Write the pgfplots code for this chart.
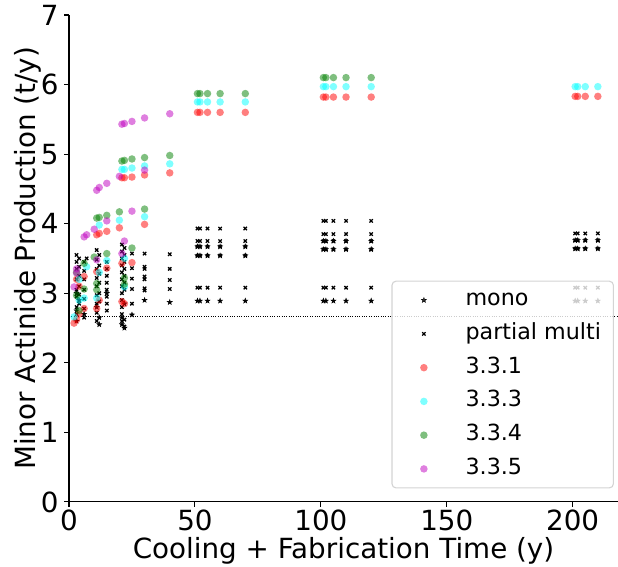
\documentclass[border=0pt]{standalone}
\usepackage{fontspec}
\setmainfont{DejaVu Sans}
\usepackage{pgfplots}
\pgfplotsset{compat=1.18}
\definecolor{mred}{rgb}{1,0,0}
\definecolor{mcyan}{rgb}{0,1,1}
\definecolor{mgreen}{rgb}{0,0.5,0}
\definecolor{mmag}{rgb}{0.75,0,0.75}

% filled five-pointed star, like matplotlib's '*'
\pgfdeclareplotmark{fstar}{%
  \pgfpathmoveto{\pgfpointpolar{90}{\pgfplotmarksize}}%
  \pgfpathlineto{\pgfpointpolar{126}{0.4\pgfplotmarksize}}%
  \pgfpathlineto{\pgfpointpolar{162}{\pgfplotmarksize}}%
  \pgfpathlineto{\pgfpointpolar{198}{0.4\pgfplotmarksize}}%
  \pgfpathlineto{\pgfpointpolar{234}{\pgfplotmarksize}}%
  \pgfpathlineto{\pgfpointpolar{270}{0.4\pgfplotmarksize}}%
  \pgfpathlineto{\pgfpointpolar{306}{\pgfplotmarksize}}%
  \pgfpathlineto{\pgfpointpolar{342}{0.4\pgfplotmarksize}}%
  \pgfpathlineto{\pgfpointpolar{18}{\pgfplotmarksize}}%
  \pgfpathlineto{\pgfpointpolar{54}{0.4\pgfplotmarksize}}%
  \pgfpathclose\pgfusepathqfillstroke}

\pgfplotsset{
    circ/.style={only marks, mark=*, mark size=2.7pt, color=#1,
        mark options={draw opacity=0, fill=#1, fill opacity=0.5}},
}

\begin{document}
\begin{tikzpicture}
\begin{axis}[
    scale only axis,
    width=395.3pt, height=350.6pt,
    xmin=0, xmax=218,
    ymin=0, ymax=7,
    axis x line=bottom, axis y line=left,
    axis line style={-, line width=0.8pt},
    xtick={0,50,100,150,200},
    ytick={0,1,2,3,4,5,6,7},
    tick align=outside,
    major tick length=3.5pt,
    tick style={black, line width=0.8pt},
    /pgf/number format/assume math mode=true,
    ticklabel style={font=\fontsize{20}{24}\selectfont},
    xticklabel style={anchor=north, yshift=1.4pt},
    yticklabel style={anchor=east, xshift=-0.5pt},
    xlabel={Cooling + Fabrication Time (y)},
    ylabel={Minor Actinide Production (t/y)},
    label style={font=\fontsize{20}{24}\selectfont},
    xlabel style={at={(axis description cs:0.5,0)}, anchor=base, yshift=-41pt},
    ylabel style={at={(axis description cs:-0.0751,0.5)}, anchor=center},
    legend cell align=left,
    legend image code/.code={\path[draw=none] (-16pt,0pt) -- (8pt,0pt); \draw[#1, only marks] plot coordinates {(0pt,0pt)};},
    legend style={
        at={(0.9927,0.4545)}, anchor=north east,
        font=\fontsize{16}{19}\selectfont,
        draw=black!17, line width=0.8pt, rounded corners=3pt,
        fill=white, fill opacity=0.8, text opacity=1,
        inner xsep=7pt, inner ysep=4.2pt,
        row sep=5.3pt, column sep=20pt,
        nodes={text height=11.5pt, text depth=3.5pt, inner sep=2pt},
    },
]

% mono
\addplot[only marks, mark=fstar, mark size=1.9pt, black, mark options={line width=0.3pt}] coordinates {
    (3,3.00) (3,2.75) (3,2.60) (4,2.90) (6,2.70) (11,2.80) (12,2.65) (12,2.55)
    (15,3.00) (21,2.55) (21,2.65) (22,2.50) (22,2.85) (25,2.69) (30,2.90) (40,2.87)
    (51,2.89) (52,2.89) (55,2.89) (60,2.89) (70,2.89)
    (51,3.54) (52,3.54) (55,3.54) (60,3.54) (70,3.54)
    (51,3.67) (52,3.67) (55,3.67) (60,3.67) (70,3.67)
    (101,2.89) (102,2.89) (105,2.89) (110,2.89) (120,2.89)
    (101,3.63) (102,3.63) (105,3.63) (110,3.63) (120,3.63)
    (101,3.75) (102,3.75) (105,3.75) (110,3.75) (120,3.75)
    (201,2.89) (202,2.89) (205,2.89) (210,2.89)
    (201,3.64) (202,3.64) (205,3.64) (210,3.64)
    (201,3.76) (202,3.76) (205,3.76) (210,3.76)
};
\addlegendentry{mono}

% partial multi
\addplot[only marks, mark=x, mark size=1.7pt, black, mark options={line width=0.9pt}] coordinates {
    (3,3.55) (3,3.45) (3,3.35) (3,3.20) (3,3.05) (3,2.95) (3,2.80) (3,2.70)
    (4,3.50) (4,3.38) (4,3.25) (4,3.10) (4,2.98) (4,2.85)
    (6,3.45) (6,3.32) (6,3.20) (6,3.05) (6,2.92) (6,2.78) (6,2.65) (7,3.50)
    (11,3.62) (11,3.48) (11,3.35) (11,3.22) (11,3.10) (11,2.97) (11,2.85) (11,2.72) (11,2.60)
    (12,3.55) (12,3.40) (12,3.28) (12,3.15) (12,3.00) (12,2.88)
    (15,3.45) (15,3.35) (15,3.25) (15,3.15) (15,3.05) (15,2.95) (15,2.85) (15,2.75)
    (21,3.70) (21,3.60) (21,3.50) (21,3.40) (21,3.30) (21,3.20) (21,3.10) (21,3.00) (21,2.90) (21,2.80) (21,2.70) (21,2.60)
    (22,3.65) (22,3.55) (22,3.45) (22,3.35) (22,3.25) (22,3.15) (22,3.05) (22,2.62) (22,2.52)
    (25,3.57) (25,3.36) (25,3.21) (25,3.06) (25,2.85)
    (30,3.57) (30,3.38) (30,3.35) (30,3.24) (30,3.20) (30,3.07) (30,3.04)
    (40,3.56) (40,3.35) (40,3.19) (40,3.06)
    (51,3.93) (51,3.75) (51,3.67) (51,3.54) (51,3.08)
    (52,3.93) (52,3.75) (52,3.67) (52,3.54) (52,3.08)
    (55,3.93) (55,3.75) (55,3.67) (55,3.54) (55,3.08)
    (60,3.93) (60,3.75) (60,3.67) (60,3.54) (60,3.08)
    (70,3.93) (70,3.75) (70,3.67) (70,3.54) (70,3.08)
    (101,4.04) (101,3.85) (101,3.75) (101,3.63) (101,3.08)
    (102,4.04) (102,3.85) (102,3.75) (102,3.63) (102,3.08)
    (105,4.04) (105,3.85) (105,3.75) (105,3.63) (105,3.08)
    (110,4.04) (110,3.85) (110,3.75) (110,3.63) (110,3.08)
    (120,4.04) (120,3.85) (120,3.75) (120,3.63) (120,3.08)
    (201,3.86) (201,3.76) (201,3.64) (201,3.08)
    (202,3.86) (202,3.76) (202,3.64) (202,3.08)
    (205,3.86) (205,3.76) (205,3.64) (205,3.08)
    (210,3.86) (210,3.76) (210,3.64) (210,3.08)
};
\addlegendentry{partial multi}

% 3.3.1
\addplot[circ=mred] coordinates {
    (2,2.57) (3,2.62) (4,2.70) (6,2.78) (11,2.78) (12,2.90) (21,2.88) (22,2.85)
    (3,3.20) (4,3.10) (6,3.24) (11,3.31) (15,3.36) (21,3.43) (25,3.44)
    (11,3.84) (12,3.86) (15,3.89) (20,3.94) (30,3.99)
    (21,4.66) (22,4.66) (25,4.67) (30,4.70) (40,4.73)
    (51,5.60) (52,5.60) (55,5.60) (60,5.60) (70,5.60)
    (101,5.82) (102,5.82) (105,5.82) (110,5.82) (120,5.82)
    (201,5.83) (202,5.83) (205,5.83) (210,5.83)
};
\addlegendentry{3.3.1}

% 3.3.3
\addplot[circ=mcyan] coordinates {
    (2,2.66) (4,2.90) (6,2.93) (11,2.93) (22,3.09) (4,3.20) (12,3.30) (7,3.38) (15,3.47) (22,3.50)
    (12,3.98) (20,4.05) (30,4.10)
    (21,4.78) (22,4.78) (25,4.80) (30,4.83) (40,4.86)
    (51,5.75) (52,5.75) (55,5.75) (60,5.75) (70,5.75)
    (101,5.97) (102,5.97) (105,5.97) (110,5.97) (120,5.97)
    (201,5.97) (202,5.97) (205,5.97) (210,5.97)
};
\addlegendentry{3.3.3}

% 3.3.4
\addplot[circ=mgreen] coordinates {
    (3,2.97) (4,2.75) (6,3.06) (11,3.05) (11,3.14) (22,3.13) (22,3.22) (3,3.30)
    (6,3.43) (10,3.52) (15,3.57) (25,3.65)
    (11,4.08) (12,4.09) (15,4.12) (20,4.17) (30,4.21)
    (21,4.90) (22,4.91) (25,4.93) (30,4.95) (40,4.98)
    (51,5.87) (52,5.87) (55,5.87) (60,5.87) (70,5.87)
    (101,6.10) (102,6.10) (105,6.10) (110,6.10) (120,6.10)
};
\addlegendentry{3.3.4}

% 3.3.5
\addplot[circ=mmag] coordinates {
    (2,3.09) (3,3.29) (3,3.35) (11,3.48) (21,3.57) (22,3.75)
    (6,3.81) (7,3.84) (10,3.92) (15,4.04) (25,4.18)
    (11,4.48) (12,4.52) (15,4.58) (20,4.68) (30,4.77)
    (21,5.43) (22,5.44) (25,5.47) (30,5.52) (40,5.58)
};
\addlegendentry{3.3.5}

% reference level
\addplot[black, densely dotted, line width=0.7pt, forget plot] coordinates {(0,2.67) (218,2.67)};

\end{axis}
\pgfresetboundingbox
\path ([xshift=-49.7pt,yshift=-46.8pt]current axis.south west) rectangle ([yshift=10.8pt]current axis.north east);
\end{tikzpicture}
\end{document}
